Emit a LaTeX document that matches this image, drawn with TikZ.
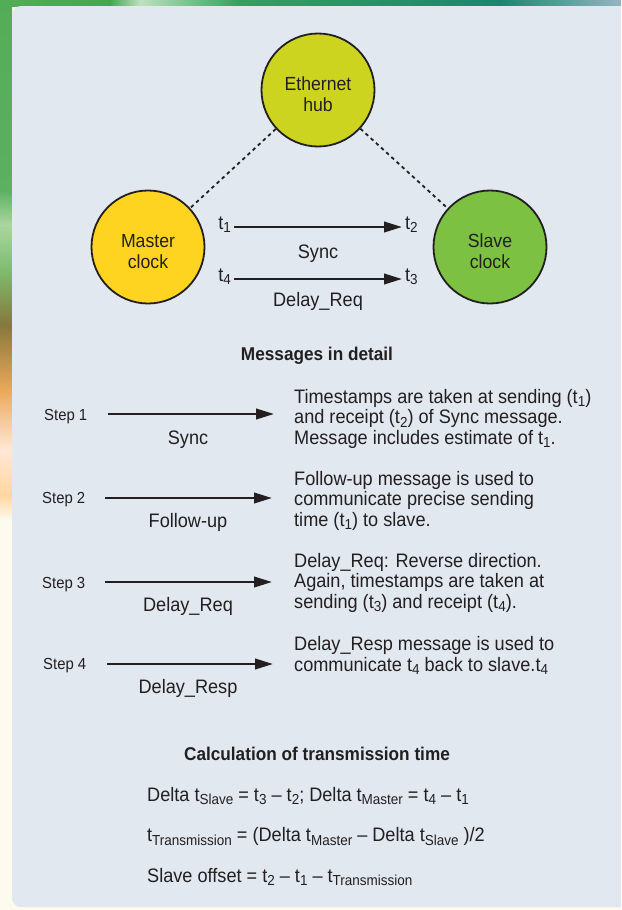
\documentclass[tikz,border=0pt]{standalone}
\usepackage{fontspec}
\setmainfont{Liberation Sans}[FakeStretch=0.93]
\usetikzlibrary{arrows.meta}
\definecolor{panel}{RGB}{225,232,240}
\definecolor{ink}{RGB}{35,31,32}
\definecolor{hubc}{RGB}{205,212,32}
\definecolor{masterc}{RGB}{255,212,32}
\definecolor{slavec}{RGB}{124,193,66}
\definecolor{cream}{RGB}{253,250,238}
\newcommand{\sbs}[1]{\raisebox{-3.5pt}{\fontsize{14.5}{15}\selectfont #1}}
\newcommand{\fmain}{\fontsize{19.5}{20.5}\selectfont}
\newcommand{\fstep}{\fontsize{16}{18}\selectfont}
\newcommand{\fhead}{\fontsize{18.5}{20.5}\selectfont\bfseries}
\newcommand{\upstrut}{\rule{0pt}{22.5pt}}
\begin{document}
\begin{tikzpicture}[x=1pt,y=-1pt,
  every node/.style={text=ink, inner sep=0pt, font=\fmain},
  clock/.style={circle, draw=ink, line width=1.8pt, minimum size=113pt, inner sep=0pt, align=center, font=\fontsize{19}{21}\selectfont},
  msg/.style={draw=ink, line width=2.3pt, -{Triangle[length=18pt,width=10.5pt]}},
  link/.style={draw=ink, line width=1.8pt, dash pattern=on 3.5pt off 3.5pt},
  desc/.style={anchor=base west, align=left, font=\fontsize{19.5}{20.3}\selectfont},
  steplbl/.style={anchor=base west, font=\fstep},
  sublbl/.style={anchor=base, font=\fmain},
  formula/.style={anchor=base west, font=\fmain}]
\useasboundingbox (0,0) rectangle (621,910);
\clip (0,0) rectangle (621,910);
% background strips
\fill[cream] (0,0) rectangle (621,910);
\shade[top color={rgb,255:red,84;green,172;blue,88}, bottom color={rgb,255:red,92;green,176;blue,96}] (0,0) rectangle (12,190);
\shade[top color={rgb,255:red,92;green,176;blue,96}, bottom color={rgb,255:red,170;green,214;blue,160}] (0,190) rectangle (12,225);
\shade[top color={rgb,255:red,170;green,214;blue,160}, bottom color={rgb,255:red,125;green,188;blue,110}] (0,225) rectangle (12,270);
\shade[top color={rgb,255:red,125;green,188;blue,110}, bottom color={rgb,255:red,135;green,120;blue,60}] (0,270) rectangle (12,325);
\shade[top color={rgb,255:red,135;green,120;blue,60}, bottom color={rgb,255:red,235;green,168;blue,90}] (0,325) rectangle (12,390);
\shade[top color={rgb,255:red,235;green,168;blue,90}, bottom color={rgb,255:red,255;green,232;blue,214}] (0,390) rectangle (12,450);
\shade[top color={rgb,255:red,255;green,232;blue,214}, bottom color={rgb,255:red,255;green,214;blue,160}] (0,450) rectangle (12,495);
\shade[top color={rgb,255:red,255;green,214;blue,160}, bottom color={rgb,255:red,253;green,250;blue,238}] (0,495) rectangle (12,520);
\shade[left color={rgb,255:red,84;green,172;blue,88}, right color={rgb,255:red,70;green,165;blue,85}] (0,0) rectangle (110,6);
\shade[left color={rgb,255:red,70;green,165;blue,85}, right color={rgb,255:red,190;green,225;blue,190}] (110,0) rectangle (140,6);
\shade[left color={rgb,255:red,190;green,225;blue,190}, right color={rgb,255:red,50;green,160;blue,95}] (140,0) rectangle (240,6);
\shade[left color={rgb,255:red,50;green,160;blue,95}, right color={rgb,255:red,25;green,135;blue,110}] (240,0) rectangle (500,6);
\shade[left color={rgb,255:red,25;green,135;blue,110}, right color={rgb,255:red,150;green,180;blue,195}] (500,0) rectangle (621,6);
% panel
\fill[panel, rounded corners=9pt] (12,6) rectangle (640,907);

% network
\node[clock, fill=hubc] (hub) at (318,90) {\upstrut Ethernet\\hub};
\node[clock, fill=masterc] (master) at (148,247) {\upstrut Master\\clock};
\node[clock, fill=slavec] (slave) at (490,247) {\upstrut Slave\\clock};
\draw[link] (hub) -- (master);
\draw[link] (hub) -- (slave);

\coordinate (syncA) at (234,227);
\coordinate (syncB) at (402,227);
\coordinate (dreqA) at (234,279);
\coordinate (dreqB) at (402,279);
\draw[msg] (syncA) -- (syncB);
\draw[msg] (dreqA) -- (dreqB);
\node[anchor=base east] (t1) at (231,229) {t\sbs{1}};
\node[anchor=base west] (t2) at (405,229) {t\sbs{2}};
\node[anchor=base east] (t4) at (231,281) {t\sbs{4}};
\node[anchor=base west] (t3) at (405,281) {t\sbs{3}};
\node[sublbl] (synclbl) at (318,258) {Sync};
\node[sublbl] (dreqlbl) at (318,306) {Delay\_Req};

% messages in detail
\node[anchor=base, font=\fhead] (head1) at (317,360) {Messages in detail};

\node[steplbl] (st1) at (44,420) {Step 1};
\coordinate (a1) at (108,414);
\coordinate (b1) at (274,414);
\draw[msg] (a1) -- (b1);
\node[sublbl] (m1) at (188,444) {Sync};
\node[desc] (d1) at (294,444) {Timestamps are taken at sending (t\sbs{1})\\and receipt (t\sbs{2}) of Sync message.\\Message includes estimate of t\sbs{1}.};

\node[steplbl] (st2) at (42,503) {Step 2};
\coordinate (a2) at (105,498);
\coordinate (b2) at (272,498);
\draw[msg] (a2) -- (b2);
\node[sublbl] (m2) at (188,527) {Follow-up};
\node[desc] (d2) at (294,526) {Follow-up message is used to\\communicate precise sending\\time (t\sbs{1}) to slave.};

\node[steplbl] (st3) at (42,588) {Step 3};
\coordinate (a3) at (105,582);
\coordinate (b3) at (272,582);
\draw[msg] (a3) -- (b3);
\node[sublbl] (m3) at (188,611) {Delay\_Req};
\node[desc] (d3) at (294,608) {Delay\_Req: Reverse direction.\\Again, timestamps are taken at\\sending (t\sbs{3}) and receipt (t\sbs{4}).};

\node[steplbl] (st4) at (43,669) {Step 4};
\coordinate (a4) at (107,664);
\coordinate (b4) at (273,664);
\draw[msg] (a4) -- (b4);
\node[sublbl] (m4) at (188,693) {Delay\_Resp};
\node[desc] (d4) at (294,671) {Delay\_Resp message is used to\\communicate t\sbs{4} back to slave.t\sbs{4}};

% calculation
\node[anchor=base, font=\fhead] (head2) at (317,760) {Calculation of transmission time};
\node[formula] (f1) at (147,801) {Delta t\sbs{Slave} = t\sbs{3} -- t\sbs{2}; Delta t\sbs{Master} = t\sbs{4} -- t\sbs{1}};
\node[formula] (f2) at (147,841.5) {t\sbs{Transmission} = (Delta t\sbs{Master} -- Delta t\sbs{Slave} )/2};
\node[formula] (f3) at (147,882) {Slave offset = t\sbs{2} -- t\sbs{1} -- t\sbs{Transmission}};
\end{tikzpicture}
\end{document}
